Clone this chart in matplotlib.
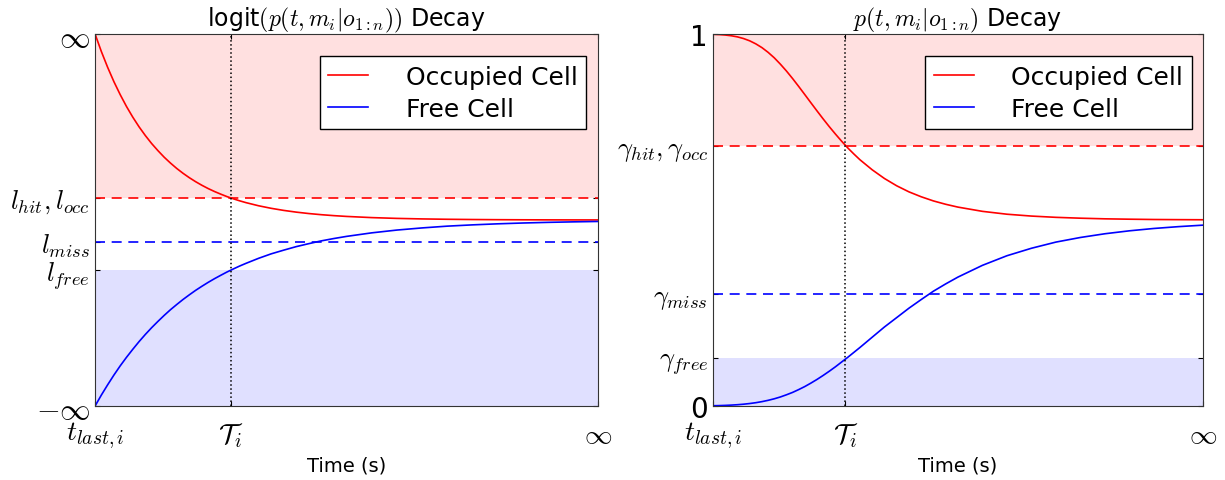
import numpy as np
import matplotlib.pyplot as plt
plt.rcParams.update({'font.size': 16, 'mathtext.fontset': 'cm',
                     'xtick.direction': 'in', 'ytick.direction': 'in',
                     'xtick.top': True, 'ytick.right': True})

# time axis (arbitrary units, T_i at 2.7, "infinity" at 10)
t = [0, 0.125, 0.25, 0.375, 0.5, 0.625, 0.75, 0.875, 1.0, 1.125, 1.25, 1.375, 1.5,
     1.625, 1.75, 1.875, 2.0, 2.125, 2.25, 2.375, 2.5, 2.625, 2.75, 2.875, 3.0, 3.25,
     3.5, 3.75, 4.0, 4.25, 4.5, 4.75, 5.0, 5.5, 6, 6.5, 7, 7.5, 8, 8.5, 9, 9.5, 10]
t_i = 2.7
t_end = 10

# log-odds decay (normalised, +-1 = +-inf)
logit_occ = [1.000, 0.906, 0.821, 0.7436, 0.674, 0.6103, 0.553, 0.5009, 0.454, 0.4112,
             0.373, 0.3375, 0.306, 0.2770, 0.251, 0.2274, 0.206, 0.1866, 0.169, 0.1532,
             0.139, 0.1257, 0.114, 0.1032, 0.0935, 0.0767, 0.0630, 0.0517, 0.0424,
             0.0348, 0.0286, 0.0235, 0.0193, 0.0130, 0.0087, 0.0059, 0.0040, 0.0027,
             0.0018, 0.0012, 0.0008, 0.00055, 0.0004]
logit_free = [-1.000, -0.9411, -0.886, -0.8334, -0.784, -0.7381, -0.695, -0.6536,
              -0.615, -0.5788, -0.545, -0.5126, -0.482, -0.454, -0.427, -0.402,
              -0.378, -0.356, -0.335, -0.3153, -0.297, -0.2792, -0.263, -0.2473,
              -0.233, -0.206, -0.182, -0.162, -0.143, -0.127, -0.112, -0.0994,
              -0.088, -0.069, -0.054, -0.0425, -0.033, -0.0261, -0.0205, -0.0161,
              -0.0126, -0.0099, -0.0077]
l_hit = 0.118
l_miss = -0.118
l_free = -0.269

# probability decay
p_occ = [0.99925, 0.9985, 0.9973, 0.9953, 0.9923, 0.9878, 0.9817, 0.9735, 0.9634,
         0.9508, 0.9362, 0.9191, 0.9005, 0.8803, 0.859, 0.8371, 0.815, 0.7931, 0.7716,
         0.7508, 0.731, 0.712, 0.694, 0.6776, 0.662, 0.635, 0.6116, 0.592, 0.5757,
         0.5625, 0.5513, 0.5423, 0.5347, 0.5233, 0.5156, 0.5106, 0.5072, 0.5049,
         0.5032, 0.5022, 0.5014, 0.501, 0.5007]
p_free = [0.00075, 0.00114, 0.0017, 0.00247, 0.0035, 0.0049, 0.0067, 0.00896, 0.0118,
          0.01527, 0.0194, 0.0243, 0.0302, 0.0366, 0.0442, 0.0524, 0.0617, 0.0716,
          0.0823, 0.0936, 0.1055, 0.1182, 0.1308, 0.1441, 0.1574, 0.185, 0.2125,
          0.2377, 0.263, 0.2862, 0.3087, 0.3283, 0.3466, 0.3782, 0.404, 0.4241,
          0.4407, 0.4531, 0.4631, 0.471, 0.4773, 0.4822, 0.4862]
g_hit = 0.7
g_miss = 0.3
g_free = 0.129

fig = plt.figure(figsize=(12.25, 4.81), dpi=100)
ax1 = fig.add_axes([0.0776, 0.1538, 0.4106, 0.7734])
ax2 = fig.add_axes([0.582, 0.1538, 0.400, 0.7734])

def decay_panel(ax, occ, free, hit, miss, fre, lo, hi, ylabels, title):
    ax.axhspan(hit, hi, color='red', alpha=0.12, lw=0)
    ax.axhspan(lo, fre, color='blue', alpha=0.12, lw=0)
    ax.plot(t, occ, 'r-', lw=1.2, label='Occupied Cell')
    ax.plot(t, free, 'b-', lw=1.2, label='Free Cell')
    ax.axhline(hit, color='r', ls='--', dashes=(6, 4), lw=1.2)
    ax.axhline(miss, color='b', ls='--', dashes=(6, 4), lw=1.2)
    ax.axvline(t_i, color='k', ls=':', lw=1.1)
    ax.set_xlim(0, t_end)
    ax.set_ylim(lo, hi)
    ax.set_xticks([0, t_i, t_end])
    ax.set_xticklabels([r'$t_{last,i}$', r'$\mathcal{T}_i$', r'$\infty$'], fontsize=20)
    ax.tick_params(axis='x', pad=10)
    ax.set_yticks([lo, fre, miss, hit, hi])
    ax.set_yticklabels(ylabels, fontsize=19)
    ax.set_xlabel('Time (s)', fontsize=14)
    ax.set_title(title, fontsize=17)
    ax.legend(loc='upper right', bbox_to_anchor=(0.977, 0.94), fancybox=False,
              framealpha=1, edgecolor='k', fontsize=18, handlelength=1.6,
              handletextpad=1.5, borderpad=0.35, labelspacing=0.3, borderaxespad=0)
    for sp in ax.spines.values():
        sp.set_color('#333333')

decay_panel(ax1, logit_occ, logit_free, l_hit, l_miss, l_free, -1, 1,
            [r'$-\infty$', r'$l_{free}$', r'$l_{miss}$', r'$l_{hit}, l_{occ}$', r'$\infty$'],
            r'logit$(p(t, m_i|o_{1:n}))$ Decay')
decay_panel(ax2, p_occ, p_free, g_hit, g_miss, g_free, 0, 1,
            ['0', r'$\gamma_{free}$', r'$\gamma_{miss}$', r'$\gamma_{hit}, \gamma_{occ}$', '1'],
            r'$p(t, m_i|o_{1:n})$ Decay')

for lab in ax1.get_yticklabels()[::4]:
    lab.set_fontsize(22)
for lab in ax2.get_yticklabels()[::4]:
    lab.set_fontsize(20)

plt.savefig('out.png', dpi=100)
